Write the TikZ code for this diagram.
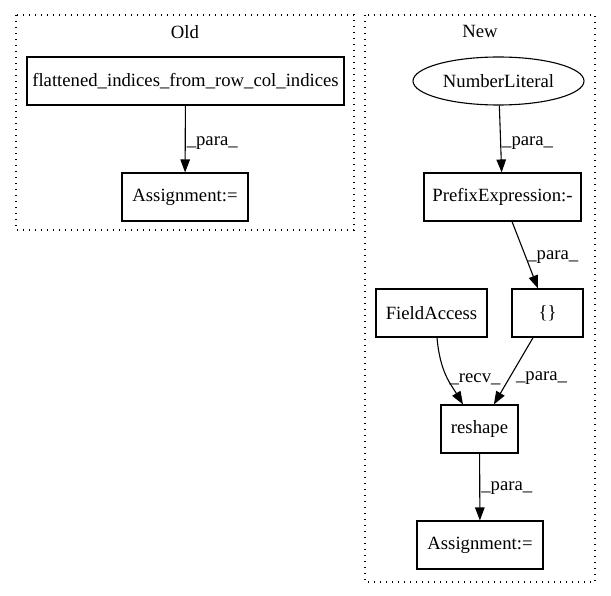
\documentclass[tikz,border=0pt]{standalone}
\usepackage{fontspec}
\setmainfont{Liberation Serif}
\usepackage{tikz}
\usetikzlibrary{arrows.meta, shapes, shapes.geometric, positioning, calc}
\tikzset{
  box/.style={draw, line width=1.1pt, rectangle, minimum height=48pt, inner sep=0pt},
  oval/.style={draw, line width=1.1pt, ellipse, minimum width=171pt, minimum height=48pt, inner sep=0pt},
  cluster/.style={line width=1.1pt, dash pattern=on 1.4pt off 4.6pt},
  lbl/.style={anchor=west, inner sep=1pt},
}
\tikzstyle{arrow} = [line width=1.1pt, -{Triangle[length=13pt, width=9.5pt]}]

\begin{document}
\begin{tikzpicture}[x=1pt, y=-1pt, font=\fontsize{18.7}{22}\selectfont]
        \useasboundingbox (0,0) rectangle (611,596);
        % clusters
        \draw[cluster] (16,15) rectangle (354,230);
        \node (oldtitle) at (185,32) {Old};
        \draw[cluster] (365,15) rectangle (595,582);
        \node (newtitle) at (480,31) {New};
        % old graph
        \node[box, minimum width=317pt] (flat) at (185.5,81) {flattened\_indices\_from\_row\_col\_indices};
        \node[box, minimum width=126pt] (oldassign) at (185,197) {Assignment:=};
        \draw[arrow] (flat) -- node[lbl, pos=0.56] {\_para\_} (oldassign);
        % new graph
        \node[oval] (numlit) at (498.5,81) {NumberLiteral};
        \node[box, minimum width=157pt] (prefix) at (502.5,197) {PrefixExpression:-};
        \node[box, minimum width=111pt] (field) at (431.5,313) {FieldAccess};
        \node[box, minimum width=71pt] (braces) at (547.5,313) {\{\}};
        \node[box, minimum width=77pt] (reshape) at (479.5,429) {reshape};
        \node[box, minimum width=126pt] (newassign) at (480,545) {Assignment:=};
        \draw[arrow] (numlit) -- node[lbl, pos=0.56] {\_para\_} (prefix);
        \draw[arrow] (prefix) -- node[lbl, pos=0.53] {\_para\_} (braces);
        \draw[arrow] ([xshift=5.5pt]field.south) .. controls +(3,35) and +(-12,-20) .. node[lbl, pos=0.55] {\_recv\_} ([xshift=-16.5pt]reshape.north);
        \draw[arrow] (braces) -- node[lbl, pos=0.6, xshift=5pt] {\_para\_} (reshape);
        \draw[arrow] (reshape) -- node[lbl, pos=0.51] {\_para\_} (newassign);
\end{tikzpicture}
\end{document}
